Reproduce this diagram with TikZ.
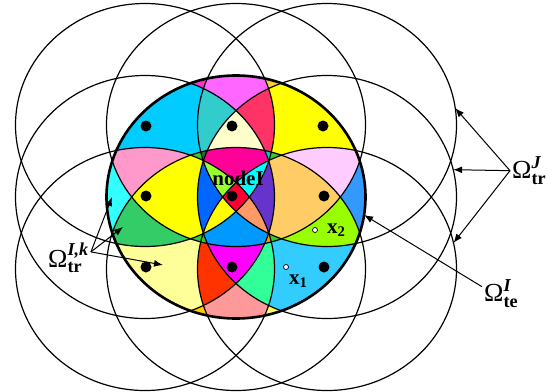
\documentclass[tikz,border=0pt]{standalone}
\usepackage{amsmath}
\usepackage{fontspec}
\setmainfont{Liberation Serif}
\usepackage{tikz}
\usetikzlibrary{arrows.meta,calc}
\definecolor{ZoneSky}{HTML}{00CCFF}
\definecolor{ZoneTeal}{HTML}{33CCCC}
\definecolor{ZoneOrchid}{HTML}{FF66FF}
\definecolor{ZoneCrimson}{HTML}{FF3366}
\definecolor{ZoneCream}{HTML}{FFFFCC}
\definecolor{ZoneYellow}{HTML}{FFFF00}
\definecolor{ZoneFuchsia}{HTML}{FF33CC}
\definecolor{ZoneGold}{HTML}{FFCC33}
\definecolor{ZonePink}{HTML}{FF99CC}
\definecolor{ZoneAqua}{HTML}{33FFFF}
\definecolor{ZoneGreen}{HTML}{33CC66}
\definecolor{ZoneRose}{HTML}{FF0099}
\definecolor{ZoneLime}{HTML}{99FF33}
\definecolor{ZoneCyan}{HTML}{00FFFF}
\definecolor{ZoneBlue}{HTML}{0066FF}
\definecolor{ZonePurple}{HTML}{6633CC}
\definecolor{ZoneRed}{HTML}{FF0033}
\definecolor{ZoneSalmon}{HTML}{FF9966}
\definecolor{ZoneAzure}{HTML}{0099FF}
\definecolor{ZoneApricot}{HTML}{FFCC66}
\definecolor{ZoneLilac}{HTML}{FFCCFF}
\definecolor{ZoneCornflower}{HTML}{3399FF}
\definecolor{ZoneChartreuse}{HTML}{99FF00}
\definecolor{ZoneButter}{HTML}{FFFF99}
\definecolor{ZoneScarlet}{HTML}{FF3300}
\definecolor{ZoneMagenta}{HTML}{FF00FF}
\definecolor{ZoneMint}{HTML}{33FF99}
\definecolor{ZoneBlush}{HTML}{FF9999}
\definecolor{ZoneSkyLight}{HTML}{33CCFF}
\definecolor{ZoneAmber}{HTML}{FFCC00}
\definecolor{ZoneLemon}{HTML}{FFFF66}
\definecolor{ZoneForest}{HTML}{336633}
\definecolor{ZoneTurquoise}{HTML}{00CCCC}
\definecolor{ZoneGrass}{HTML}{33CC33}
\definecolor{ZoneOrange}{HTML}{FF9900}
\newcommand\ringrx{129.5}
\newcommand\ringry{121.5}
\newcommand\inside[1]{\clip (#1) ellipse [x radius=\ringrx, y radius=\ringry];}
\newcommand\outside[1]{\clip (0,0) -- (0,391) -- (556,391) -- (556,0) -- cycle (#1) ellipse [x radius=\ringrx, y radius=\ringry];}
\newcommand\inout[2]{\ifnum#2=1 \expandafter\inside\else\expandafter\outside\fi{#1}}
% one zone of the support of node I: in (1) or out of (0) TL T TR L R BL B BR
\newcommand\patch[9]{\begin{scope}
  \inout{TL}{#1}\inout{T}{#2}\inout{TR}{#3}\inout{L}{#4}
  \inout{R}{#5}\inout{BL}{#6}\inout{B}{#7}\inout{BR}{#8}
  \fill[#9] (C) ellipse [x radius=\ringrx, y radius=\ringry];
\end{scope}}

\begin{document}
\begin{tikzpicture}[x=1pt, y=-1pt,
    ring/.style={line width=1.2pt},
    pointer/.style={-{Latex[length=9pt,width=7pt]}, line width=1pt},
    omega/.style={font=\fontsize{26}{28}\selectfont, inner sep=2pt, anchor=base west}]
  \useasboundingbox (0,0) rectangle (556,391);
  \coordinate (TL) at (145,125);
  \coordinate (T) at (236,125);
  \coordinate (TR) at (327,125);
  \coordinate (L) at (145,197);
  \coordinate (C) at (236,197);
  \coordinate (R) at (327,197);
  \coordinate (BL) at (145,269);
  \coordinate (B) at (236,269);
  \coordinate (BR) at (327,269);
  % zones
  \fill[ZoneGrass] (C) ellipse [x radius=\ringrx, y radius=\ringry];
  \patch 11010000{ZoneSky}
  \patch 11110000{ZoneTeal}
  \patch 11100000{ZoneOrchid}
  \patch 11101000{ZoneCrimson}
  \patch 11111000{ZoneCream}
  \patch 01101000{ZoneYellow}
  \patch 11000000{ZoneFuchsia}
  \patch 01100000{ZoneGold}
  \patch 11010100{ZonePink}
  \patch 10010100{ZoneAqua}
  \patch 11010110{ZoneYellow}
  \patch 10010110{ZoneGreen}
  \patch 11111010{ZoneRose}
  \patch 11111110{ZoneLime}
  \patch 11111011{ZoneCyan}
  \patch 11011110{ZoneBlue}
  \patch 01111011{ZonePurple}
  \patch 11111111{ZoneRed}
  \patch 11011111{ZoneYellow}
  \patch 01111111{ZoneSalmon}
  \patch 01011111{ZoneAzure}
  \patch 01101011{ZoneApricot}
  \patch 01101001{ZoneLilac}
  \patch 00101001{ZoneCornflower}
  \patch 00101011{ZoneChartreuse}
  \patch 00010110{ZoneButter}
  \patch 00010111{ZoneScarlet}
  \patch 00011111{ZoneMagenta}
  \patch 00001111{ZoneMint}
  \patch 00000111{ZoneBlush}
  \patch 00001011{ZoneSkyLight}
  \patch 00000110{ZoneAmber}
  \patch 00000011{ZoneLemon}
  \patch 11110010{ZoneForest}
  \patch 11101010{ZoneTurquoise}
  \patch 01010111{ZoneGrass}
  \patch 01001111{ZoneOrange}
  % circles
  \foreach \c in {TL,T,TR,L,R,BL,B,BR}
    \draw[ring] (\c) ellipse [x radius=\ringrx, y radius=\ringry];
  \draw[line width=2.6pt] (C) ellipse [x radius=\ringrx, y radius=\ringry];
  \foreach \p in {(146,126),(232,126),(323,126),(146,196),(232,196),(324,196),(146,267),(232,267),(324,267)}
    \fill \p circle (5.5);
  \draw[fill=white, line width=0.7pt] (286,267) circle (2.5) (315,230) circle (2.5);
  % labels
  \node[font=\fontsize{21}{23}\selectfont\bfseries, anchor=base, inner sep=0pt] (nodeI) at (238,185) {nodeI};
  \node[font=\fontsize{21}{23}\selectfont\bfseries, anchor=base west, inner sep=0pt] (x1) at (289,284) {x\textsubscript{1}};
  \node[font=\fontsize{21}{23}\selectfont\bfseries, anchor=base west, inner sep=0pt] (x2) at (327,233) {x\textsubscript{2}};
  \node[omega] (ik) at (46,267) {Ω$^{\text{\bfseries\itshape I,k}}_{\text{\bfseries tr}}$};
  \node[omega] (jtr) at (510,178) {Ω$^{\text{\bfseries\itshape J}}_{\text{\bfseries tr}}$};
  \node[omega] (ite) at (482,301) {Ω$^{\text{\bfseries\itshape I}}_{\text{\bfseries te}}$};
  % arrows
  \coordinate (k1) at (112,197);
  \coordinate (k2) at (123,227);
  \coordinate (k3) at (163,265);
  \coordinate (j1) at ($(TR)+(-8:129.5 and 121.5)$);
  \coordinate (j2) at ($(R)+(-13:129.5 and 121.5)$);
  \coordinate (j3) at ($(BR)+(-12.4:129.5 and 121.5)$);
  \coordinate (e1) at ($(C)+(8.5:129.5 and 121.5)$);
  \foreach \t in {k1,k2,k3} \draw[pointer] (ik.15) -- (\t);
  \foreach \t in {j1,j2,j3} \draw[pointer] (jtr.west) -- (\t);
  \draw[pointer] (ite.160) -- (e1);
\end{tikzpicture}
\end{document}
